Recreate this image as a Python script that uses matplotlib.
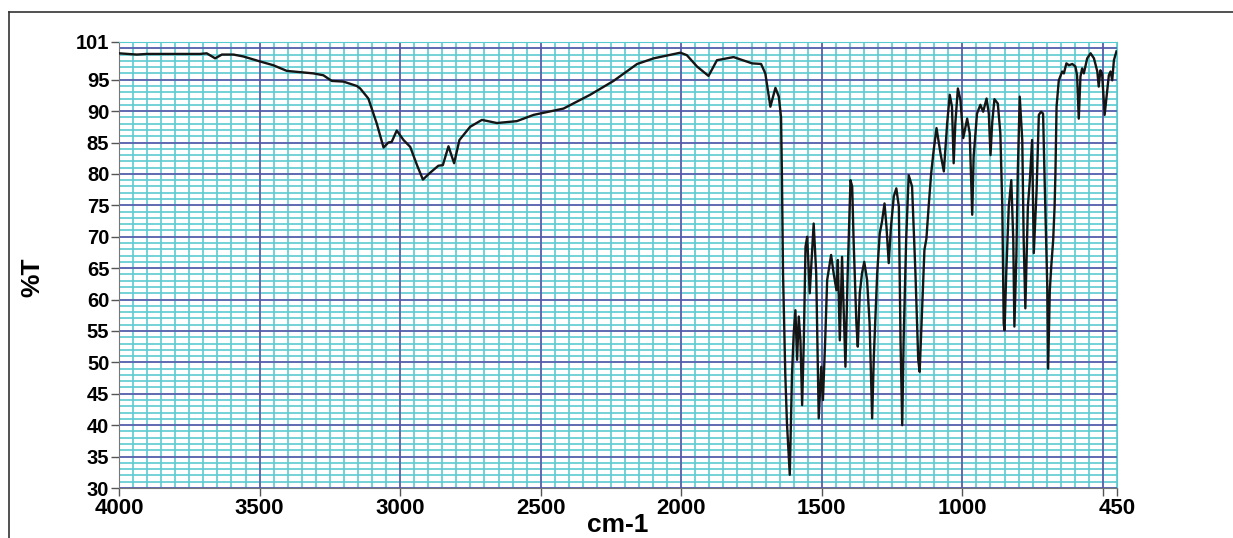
import matplotlib
matplotlib.use("Agg")
import matplotlib.pyplot as plt
from matplotlib.lines import Line2D
import numpy as np

plt.rcParams['font.family'] = ['Liberation Sans', 'DejaVu Sans']

# Espectro IR (número de onda en cm-1, %T)
wavenumber = [4000, 3937, 3901, 3712, 3688, 3658, 3634, 3593, 3558, 3498,
              3451, 3403, 3356, 3308, 3273, 3243, 3202, 3154, 3142, 3113,
              3083, 3059, 3042, 3030, 3012, 2988, 2964, 2940, 2919, 2893,
              2864, 2848, 2828, 2808, 2789, 2751, 2709, 2656, 2585, 2525,
              2419, 2324, 2241, 2157, 2098, 2003, 1980, 1944, 1903, 1873,
              1814, 1748, 1716, 1701, 1683, 1665, 1653, 1645, 1642, 1638,
              1630, 1624, 1614, 1606, 1600, 1594, 1588, 1582, 1576, 1570,
              1564, 1558, 1552, 1543, 1535, 1529, 1520, 1511, 1502, 1496,
              1488, 1481, 1467, 1458, 1448, 1443, 1436, 1428, 1416, 1408,
              1398, 1392, 1387, 1377, 1372, 1365, 1357, 1349, 1339, 1330,
              1321, 1315, 1303, 1294, 1286, 1277, 1270, 1262, 1254, 1244,
              1235, 1226, 1220, 1214, 1209, 1200, 1191, 1179, 1167, 1157,
              1152, 1143, 1135, 1128, 1120, 1111, 1102, 1092, 1078, 1066,
              1054, 1045, 1037, 1031, 1025, 1016, 1007, 997, 989, 983,
              974, 965, 960, 948, 936, 926, 914, 906, 900, 894,
              886, 874, 865, 858, 853, 850, 844, 835, 826, 819,
              815, 808, 803, 796, 787, 782, 776, 767, 760, 752,
              746, 736, 728, 720, 713, 708, 702, 698, 695, 689,
              684, 677, 672, 669, 665, 657, 645, 639, 630, 621,
              609, 598, 592, 586, 580, 574, 568, 556, 544, 532,
              520, 515, 509, 503, 494, 487, 479, 473, 467, 461,
              452]
transmittance = [99.2, 99.0, 99.1, 99.1, 99.2, 98.4, 99.0, 99.0, 98.7, 97.9,
                 97.3, 96.4, 96.2, 96.0, 95.7, 94.8, 94.7, 94.0, 93.6, 92.0,
                 88.0, 84.2, 85.0, 85.1, 86.9, 85.4, 84.3, 81.4, 79.1, 80.2,
                 81.3, 81.4, 84.4, 81.7, 85.4, 87.5, 88.6, 88.1, 88.4, 89.4,
                 90.4, 92.6, 94.8, 97.5, 98.4, 99.3, 98.9, 97.1, 95.6, 98.1,
                 98.6, 97.6, 97.5, 96.0, 90.7, 93.7, 92.3, 89.0, 80.1, 64.2,
                 48.2, 40.3, 32.1, 48.2, 54.6, 58.3, 50.4, 57.3, 53.5, 43.2,
                 53.5, 68.4, 70.0, 61.0, 67.4, 72.1, 64.2, 41.1, 49.3, 44.0,
                 53.5, 63.1, 67.1, 64.2, 61.5, 66.3, 53.5, 66.8, 49.3, 64.2,
                 79.0, 78.0, 69.5, 56.2, 52.5, 61.0, 64.2, 66.0, 63.1, 56.2,
                 41.1, 50.9, 64.2, 70.5, 72.4, 75.3, 71.6, 65.8, 71.6, 76.4,
                 77.7, 74.8, 53.5, 40.0, 53.5, 69.5, 79.8, 78.0, 64.2, 50.4,
                 48.5, 58.8, 67.9, 69.7, 74.8, 80.1, 83.8, 87.3, 83.3, 80.4,
                 88.1, 92.6, 90.7, 81.7, 88.1, 93.6, 91.8, 85.7, 87.5, 88.8,
                 86.5, 73.5, 82.7, 89.6, 91.0, 89.9, 92.0, 89.6, 83.0, 88.1,
                 91.9, 91.2, 86.5, 74.8, 56.2, 55.1, 64.2, 74.8, 79.0, 69.5,
                 55.7, 66.8, 80.1, 92.3, 85.4, 69.5, 58.6, 74.8, 79.0, 85.4,
                 67.4, 77.4, 89.4, 89.9, 89.6, 80.1, 69.5, 62.0, 49.0, 61.5,
                 65.2, 69.5, 74.8, 80.1, 90.7, 94.9, 96.3, 96.0, 97.6, 97.3,
                 97.5, 97.1, 95.7, 88.8, 95.5, 96.8, 96.0, 98.4, 99.2, 98.4,
                 96.3, 93.9, 96.5, 96.0, 89.4, 92.3, 95.7, 96.3, 94.9, 98.1,
                 99.5]

x_major = [4000, 3500, 3000, 2500, 2000, 1500, 1000, 450]
x_labels = ['4000', '3500', '3000', '2500', '2000', '1500', '1000', '450']
y_major = [30, 35, 40, 45, 50, 55, 60, 65, 70, 75, 80, 85, 90, 95, 101]

cyan = '#5ccbd0'
purple = '#5e4eaa'

fig = plt.figure(figsize=(12.33, 5.38), dpi=100)
ax = fig.add_axes([119 / 1233, 1 - 488 / 538, 998 / 1233, 446 / 538])

# Cuadrícula fina (cian) y gruesa (violeta)
for w in np.arange(4000, 449, -50):
    ax.axvline(w, color=cyan, lw=1.2, zorder=1)
for t in np.arange(30, 102, 1):
    ax.axhline(t, color=cyan, lw=1.2, zorder=1)
for w in np.arange(4000, 449, -500):
    ax.axvline(w, color=purple, lw=1.1, zorder=2)
for t in np.arange(30, 101, 5):
    ax.axhline(t, color=purple, lw=1.1, zorder=2)

ax.plot(wavenumber, transmittance, color='#151515', lw=1.7, zorder=3)

ax.set_xlim(4000, 450)
ax.set_ylim(30, 101)
ax.set_xticks(x_major + [500])
ax.set_xticklabels(x_labels + [''])
ax.set_yticks(y_major)
ax.set_yticklabels([str(v) for v in y_major])
ax.tick_params(axis='both', direction='out', length=6, width=1, color='#555555', pad=1)
ax.tick_params(axis='x', labelsize=16, pad=1)
ax.tick_params(axis='y', labelsize=14.5)
for lab in ax.get_xticklabels() + ax.get_yticklabels():
    lab.set_fontweight('bold')

for side in ['left', 'bottom']:
    ax.spines[side].set_color('#777777')
for side in ['top', 'right']:
    ax.spines[side].set_color(cyan)

ax.set_ylabel('%T', fontsize=19, fontweight='bold')
ax.yaxis.set_label_coords((44 - 119) / 998, (488 - 277) / 446)
ax.set_xlabel('cm-1', fontsize=19, fontweight='bold')
ax.xaxis.set_label_coords(0.5, (488 - 513) / 446)

# Marco exterior de la captura
fig.add_artist(Line2D([9 / 1233, 1], [1 - 12 / 538, 1 - 12 / 538],
                      transform=fig.transFigure, color='#333333', lw=1.2))
fig.add_artist(Line2D([9 / 1233, 9 / 1233], [0, 1 - 12 / 538],
                      transform=fig.transFigure, color='#333333', lw=1.2))

fig.savefig('out.png', dpi=100)
